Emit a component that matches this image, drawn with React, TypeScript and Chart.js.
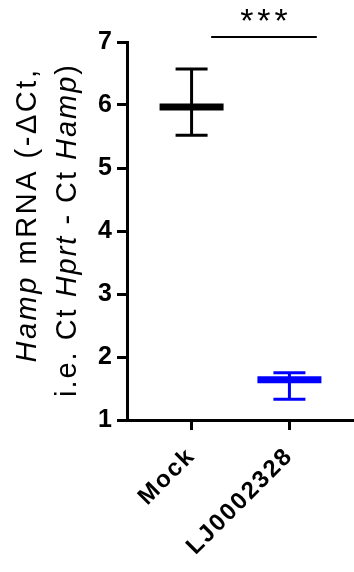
import React, { useEffect, useRef } from 'react';
import { Chart, registerables } from 'chart.js';

Chart.register(...registerables);

// ---- data ----
const categories = ['Mock', 'LJ0002328'];
const categoryX = [1, 2];
const means = [5.97, 1.64];
const upperErr = [6.57, 1.75];
const lowerErr = [5.52, 1.33];
const groupColors = ['#000000', '#0000ff'];
const yTickValues = [1, 2, 3, 4, 5, 6, 7];
const sigBarX = [1.2, 2.28];
const sigBarY = 7.08;
const sigLabel = '***';
const titleLine1 = [
  { text: 'Hamp', italic: true },
  { text: ' mRNA (-\u0394Ct,', italic: false },
];
const titleLine2 = [
  { text: 'i.e. Ct ', italic: false },
  { text: 'Hprt', italic: true },
  { text: ' - Ct ', italic: false },
  { text: 'Hamp', italic: true },
  { text: ')', italic: false },
];

const FAMILY = "'Liberation Sans', Arial, Helvetica, sans-serif";

type Seg = { text: string; italic: boolean };

function drawSegLine(ctx: CanvasRenderingContext2D, segs: Seg[], cx: number, cy: number, size: number, targetLen: number) {
  ctx.save();
  ctx.translate(cx, cy);
  ctx.rotate(-Math.PI / 2);
  ctx.textAlign = 'left';
  ctx.textBaseline = 'alphabetic';
  ctx.fillStyle = '#000';
  let natural = 0;
  let chars = 0;
  (ctx as any).letterSpacing = '0px';
  for (const s of segs) {
    ctx.font = `${s.italic ? 'italic ' : ''}${size}px ${FAMILY}`;
    natural += ctx.measureText(s.text).width;
    chars += [...s.text].length;
  }
  const ls = Math.max(0, (targetLen - natural) / chars);
  (ctx as any).letterSpacing = `${ls}px`;
  let x = -targetLen / 2;
  for (const s of segs) {
    ctx.font = `${s.italic ? 'italic ' : ''}${size}px ${FAMILY}`;
    ctx.fillText(s.text, x, 0);
    x += ctx.measureText(s.text).width;
  }
  ctx.restore();
}

const annotationPlugin = {
  id: 'annot',
  beforeDraw(chart: any) {
    const xs = chart.scales.x;
    if (xs && !xs.__patched) {
      const orig = xs.drawLabels;
      xs.drawLabels = function (area: any) {
        const c = this.ctx;
        c.save();
        c.letterSpacing = '2px';
        orig.call(this, area);
        c.restore();
      };
      xs.__patched = true;
    }
  },
  afterDraw(chart: any) {
    const ctx: CanvasRenderingContext2D = chart.ctx;
    const xs = chart.scales.x;
    const ys = chart.scales.y;
    drawSegLine(ctx, titleLine1, 36, 215, 29, 295);
    drawSegLine(ctx, titleLine2, 76, 230, 29, 334);
    const mid = (xs.getPixelForValue(sigBarX[0]) + xs.getPixelForValue(sigBarX[1])) / 2;
    const yb = ys.getPixelForValue(sigBarY) - 5;
    ctx.save();
    ctx.font = `34px ${FAMILY}`;
    (ctx as any).letterSpacing = '4px';
    ctx.textAlign = 'center';
    ctx.textBaseline = 'alphabetic';
    ctx.fillStyle = '#000';
    ctx.fillText(sigLabel, mid + 2, yb);
    ctx.restore();
  },
};

export default function App() {
  const ref = useRef<HTMLCanvasElement>(null);
  useEffect(() => {
    if (!ref.current) return;
    const datasets: any[] = [];
    categories.forEach((c, i) => {
      datasets.push({
        label: c + ' mean',
        data: [{ x: categoryX[i], y: means[i] }],
        showLine: false,
        pointStyle: 'line',
        pointRadius: 32,
        pointBorderWidth: 7,
        pointBorderColor: groupColors[i],
        pointBackgroundColor: groupColors[i],
        borderColor: groupColors[i],
        clip: false,
      });
    });
    categories.forEach((c, i) => {
      datasets.push({
        label: c + ' SD caps',
        data: [
          { x: categoryX[i], y: upperErr[i] },
          { x: categoryX[i], y: lowerErr[i] },
        ],
        showLine: false,
        pointStyle: 'line',
        pointRadius: 16,
        pointBorderWidth: 3,
        pointBorderColor: groupColors[i],
        pointBackgroundColor: groupColors[i],
        borderColor: groupColors[i],
        clip: false,
      });
      datasets.push({
        label: c + ' SD',
        data: [
          { x: categoryX[i], y: lowerErr[i] },
          { x: categoryX[i], y: upperErr[i] },
        ],
        showLine: true,
        pointRadius: 0,
        borderWidth: 3,
        borderColor: groupColors[i],
        clip: false,
      });
    });
    datasets.push({
      label: 'significance',
      data: [
        { x: sigBarX[0], y: sigBarY },
        { x: sigBarX[1], y: sigBarY },
      ],
      showLine: true,
      pointRadius: 0,
      borderWidth: 2,
      borderColor: '#000',
      clip: false,
    });

    Chart.defaults.font.family = FAMILY;
    const chart = new Chart(ref.current, {
      type: 'scatter',
      data: { datasets },
      options: {
        animation: false,
        responsive: false,
        events: [],
        layout: { autoPadding: false, padding: { top: 42, left: 0, right: 0, bottom: 0 } },
        plugins: { legend: { display: false }, tooltip: { enabled: false } },
        scales: {
          x: {
            type: 'linear',
            position: 'bottom',
            min: 0.34,
            max: 2.66,
            afterBuildTicks: (axis: any) => {
              axis.ticks = categoryX.map((v) => ({ value: v }));
            },
            afterFit: (scale: any) => {
              scale.height = 152;
              scale.paddingLeft = 0;
              scale.paddingRight = 0;
            },
            ticks: {
              autoSkip: false,
              minRotation: 45,
              maxRotation: 45,
              padding: 12,
              color: '#000',
              font: { size: 24, weight: 'bold', family: FAMILY },
              callback: (v: any) => {
                const idx = categoryX.indexOf(Number(v));
                return idx >= 0 ? categories[idx] : '';
              },
            },
            grid: {
              display: true,
              drawOnChartArea: false,
              drawTicks: true,
              tickLength: 10,
              lineWidth: 3,
              color: '#000',
            },
            border: { display: true, width: 3, color: '#000' },
          },
          y: {
            type: 'linear',
            min: 1,
            max: 7,
            afterBuildTicks: (axis: any) => {
              axis.ticks = yTickValues.map((v) => ({ value: v }));
            },
            afterFit: (scale: any) => {
              scale.width = 127;
              scale.paddingTop = 0;
              scale.paddingBottom = 0;
            },
            ticks: {
              padding: 5,
              color: '#000',
              font: { size: 25, weight: 'bold', family: FAMILY },
            },
            grid: {
              display: true,
              drawOnChartArea: false,
              drawTicks: true,
              tickLength: 10,
              lineWidth: 3,
              color: '#000',
            },
            border: { display: true, width: 3, color: '#000' },
          },
        },
      } as any,
      plugins: [annotationPlugin],
    });
    return () => chart.destroy();
  }, []);

  return (
    <div style={{ position: 'absolute', left: 0, top: 0, width: 354, height: 572, background: '#fff' }}>
      <canvas ref={ref} width={354} height={572} style={{ width: 354, height: 572, display: 'block' }} />
    </div>
  );
}
